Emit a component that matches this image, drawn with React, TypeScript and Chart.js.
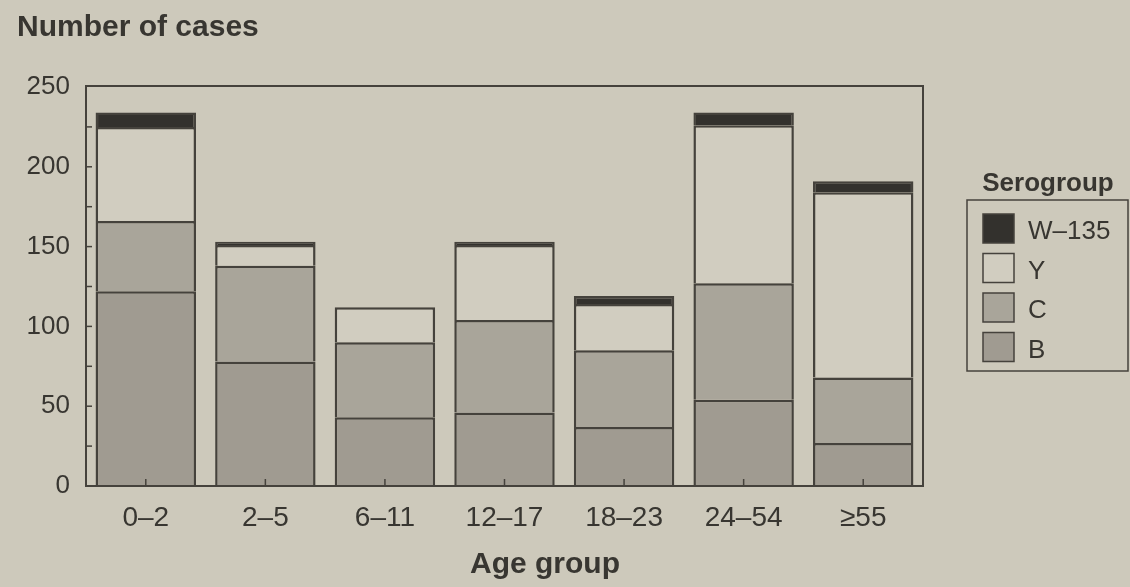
import React, { useEffect, useRef } from "react";
import { Chart, registerables } from "chart.js";

Chart.register(...registerables);

const categories = ["0–2", "2–5", "6–11", "12–17", "18–23", "24–54", "≥55"];
const seriesB = [122, 78, 43, 46, 37, 54, 27];
const seriesC = [44, 60, 47, 58, 48, 73, 41];
const seriesY = [59, 13, 22, 47, 29, 99, 116];
const seriesW = [9, 2, 0, 2, 5, 8, 7];
const yTicks = [0, 50, 100, 150, 200, 250];
const yMinorTicks = [25, 50, 75, 100, 125, 150, 175, 200, 225];

const PAPER = "#cdc9bb";
const INK = "#383631";
const EDGE = "#45423c";
const FONT = "'Liberation Sans', Arial, Helvetica, sans-serif";

const decorPlugin = {
  id: "decor",
  beforeDraw(chart: any) {
    const { ctx, width, height } = chart;
    ctx.save();
    ctx.fillStyle = PAPER;
    ctx.fillRect(0, 0, width, height);
    ctx.restore();
  },
  afterDatasetsDraw(chart: any) {
    const { ctx, chartArea } = chart;
    const ys = chart.scales.y;
    const xs = chart.scales.x;
    ctx.save();
    // frame
    ctx.strokeStyle = EDGE;
    ctx.lineWidth = 2;
    ctx.strokeRect(chartArea.left, chartArea.top - 1, chartArea.right - chartArea.left, chartArea.bottom - chartArea.top + 1);
    // minor ticks on y axis (inside)
    ctx.lineWidth = 1.5;
    yMinorTicks.forEach((v) => {
      const y = ys.getPixelForValue(v);
      ctx.beginPath();
      ctx.moveTo(chartArea.left, y);
      ctx.lineTo(chartArea.left + 6, y);
      ctx.stroke();
    });
    // small ticks at category centres (inside, bottom)
    categories.forEach((_, i) => {
      const x = xs.getPixelForValue(i);
      ctx.beginPath();
      ctx.moveTo(x, chartArea.bottom);
      ctx.lineTo(x, chartArea.bottom - 7);
      ctx.stroke();
    });

    // y title
    ctx.fillStyle = INK;
    ctx.font = `bold 30px ${FONT}`;
    ctx.textAlign = "left";
    ctx.textBaseline = "alphabetic";
    ctx.fillText("Number of cases", 17, 36);

    // x title
    ctx.textAlign = "center";
    ctx.fillText("Age group", 545, 573);

    // legend
    const ds = chart.data.datasets.slice().reverse();
    ctx.font = `bold 26px ${FONT}`;
    ctx.textAlign = "center";
    ctx.fillText("Serogroup", 1048, 191);
    ctx.lineWidth = 1.5;
    ctx.strokeStyle = EDGE;
    ctx.strokeRect(967, 200, 161, 171);
    ds.forEach((d: any, i: number) => {
      const top = 214 + i * 39.5;
      ctx.fillStyle = d.backgroundColor;
      ctx.fillRect(983, top, 31, 29);
      ctx.lineWidth = 1.5;
      ctx.strokeStyle = EDGE;
      ctx.strokeRect(983, top, 31, 29);
      ctx.fillStyle = INK;
      ctx.font = `26px ${FONT}`;
      ctx.textAlign = "left";
      ctx.fillText(d.label, 1028, top + 25);
    });
    ctx.restore();
  },
};

export default function App() {
  const ref = useRef<HTMLCanvasElement | null>(null);

  useEffect(() => {
    document.body.style.margin = "0";
    document.body.style.background = PAPER;
    const canvas = ref.current;
    if (!canvas) return;
    const common = {
      borderColor: EDGE,
      borderWidth: { top: 2.5, bottom: 0, left: 2.5, right: 2.5 },
      borderSkipped: false,
      barPercentage: 0.84,
      categoryPercentage: 1,
    };
    const chart = new Chart(canvas, {
      type: "bar",
      data: {
        labels: categories,
        datasets: [
          { label: "B", data: seriesB, backgroundColor: "#a09b91", ...common },
          { label: "C", data: seriesC, backgroundColor: "#a9a59a", ...common },
          { label: "Y", data: seriesY, backgroundColor: "#d1cdc0", ...common },
          { label: "W–135", data: seriesW, backgroundColor: "#33312d", ...common },
        ],
      } as any,
      options: {
        responsive: false,
        animation: false,
        layout: { padding: { top: 87, right: 207, bottom: 0, left: 0 } },
        plugins: {
          legend: { display: false },
          tooltip: { enabled: false },
          title: { display: false },
        },
        scales: {
          x: {
            stacked: true,
            grid: { display: false, drawTicks: false },
            border: { display: false },
            ticks: {
              color: INK,
              font: { family: FONT, size: 28 },
              padding: 15,
              maxRotation: 0,
            },
            afterFit(scale: any) {
              scale.height = 101;
            },
          },
          y: {
            stacked: true,
            min: 0,
            max: 250,
            grid: { display: false, drawTicks: false },
            border: { display: false },
            afterBuildTicks(scale: any) {
              scale.ticks = yTicks.map((v) => ({ value: v }));
            },
            ticks: {
              color: INK,
              font: { family: FONT, size: 26 },
              padding: 16,
            },
            afterFit(scale: any) {
              scale.width = 86;
            },
          },
        },
      } as any,
      plugins: [decorPlugin],
    });
    return () => chart.destroy();
  }, []);

  return (
    <div style={{ width: 1130, height: 587 }}>
      <canvas ref={ref} width={1130} height={587} />
    </div>
  );
}
